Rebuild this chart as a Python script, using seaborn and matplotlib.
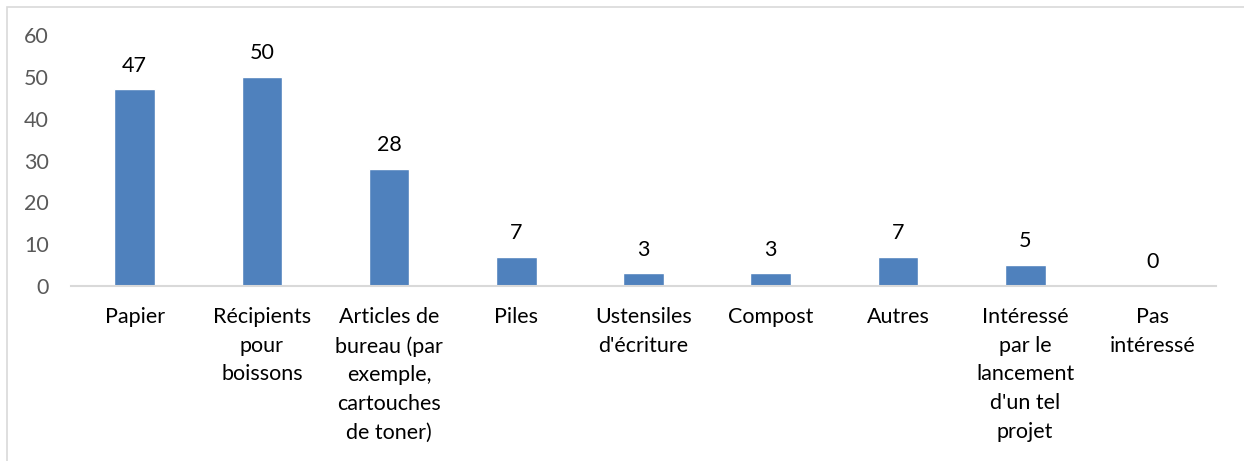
import pandas as pd
import matplotlib
matplotlib.use("Agg")
import matplotlib.pyplot as plt
import seaborn as sns
from matplotlib.patches import Rectangle

categories = [
    "Papier",
    "Récipients\npour\nboissons",
    "Articles de\nbureau (par\nexemple,\ncartouches\nde toner)",
    "Piles",
    "Ustensiles\nd'écriture",
    "Compost",
    "Autres",
    "Intéressé\npar le\nlancement\nd'un tel\nprojet",
    "Pas\nintéressé",
]
values = [47, 50, 28, 7, 3, 3, 7, 5, 0]

df = pd.DataFrame({"cat": categories, "val": values})

sns.set_theme(style="white")
plt.rcParams["font.family"] = ["Lato", "DejaVu Sans"]

fig = plt.figure(figsize=(12.44, 4.61), dpi=100)
ax = fig.add_axes([0.0571, 0.3796, 0.9775 - 0.0571, 0.924 - 0.3796])

sns.barplot(data=df, x="cat", y="val", color="#4F81BD", saturation=1,
            width=0.32, ax=ax)

ax.set_ylim(0, 60)
ax.set_yticks(range(0, 61, 10))
ax.set_xlim(-0.5, len(categories) - 0.5)
ax.set_xlabel("")
ax.set_ylabel("")

for s in ["top", "right", "left"]:
    ax.spines[s].set_visible(False)
ax.spines["bottom"].set_color("#D9D9D9")
ax.spines["bottom"].set_linewidth(1.5)

ax.tick_params(axis="y", length=0, pad=16, labelsize=15.5, labelcolor="#595959")
ax.tick_params(axis="x", length=0, pad=15, labelsize=15.5, labelcolor="#000000")
for lbl in ax.get_xticklabels():
    lbl.set_linespacing(1.55)
    lbl.set_verticalalignment("top")

for i, v in enumerate(values):
    ax.annotate(str(v), (i, v), xytext=(0, 10), textcoords="offset points",
                ha="center", va="bottom", fontsize=15.5, color="#000000")

# chart frame
fig.patches.append(Rectangle((7 / 1244, -0.1), 1.2, (461 - 7) / 461 + 0.1,
                             transform=fig.transFigure, fill=False,
                             edgecolor="#D9D9D9", linewidth=1.2))

fig.savefig("out.png", dpi=100)
